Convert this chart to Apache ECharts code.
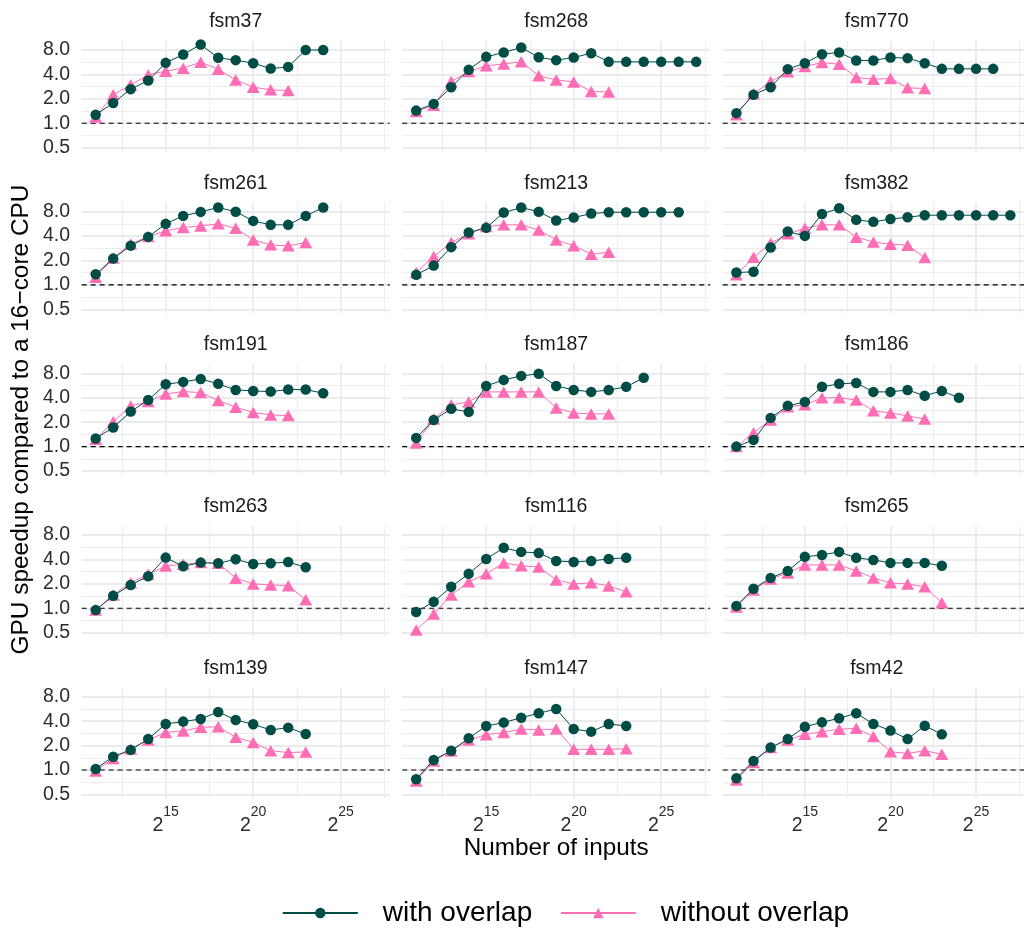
<!DOCTYPE html>
<html>
<head>
<meta charset="utf-8">
<script src="https://cdn.jsdelivr.net/npm/echarts@6/dist/echarts.min.js"></script>
<style>
  html, body { margin: 0; padding: 0; background: #ffffff; }
  #chart { width: 1024px; height: 931px; }
</style>
</head>
<body>
<div id="chart"></div>
<script>
// Input sizes are powers of two: 2^11 ... 2^27
const inputExponents = [11, 12, 13, 14, 15, 16, 17, 18, 19, 20, 21, 22, 23, 24, 25, 26, 27];

// GPU speedup over a 16-core CPU, one pair of arrays per FSM
const fsm37With     = [1.27, 1.77, 2.63, 3.36, 5.55, 7.03, 9.34, 6.4, 5.99, 5.5, 4.72, 4.95, 8.0, 8.0];
const fsm37Without  = [1.19, 2.24, 2.97, 3.95, 4.38, 4.77, 5.66, 4.64, 3.42, 2.78, 2.58, 2.53];
const fsm268With    = [1.43, 1.73, 2.78, 4.55, 6.58, 7.45, 8.58, 6.5, 5.99, 6.46, 7.3, 5.71, 5.71, 5.71, 5.71, 5.71, 5.71];
const fsm268Without = [1.39, 1.67, 3.27, 4.34, 5.1, 5.39, 5.71, 3.84, 3.42, 3.23, 2.46, 2.43];
const fsm770With    = [1.33, 2.24, 2.78, 4.64, 5.5, 7.1, 7.45, 5.94, 5.94, 6.46, 6.34, 5.5, 4.68, 4.68, 4.68, 4.68];
const fsm770Without = [1.27, 2.3, 3.27, 4.3, 5.0, 5.6, 5.34, 3.66, 3.49, 3.56, 2.73, 2.68];
const fsm261With    = [1.35, 2.11, 3.05, 3.91, 5.66, 7.1, 7.95, 9.0, 8.0, 6.16, 5.5, 5.5, 7.1, 9.0];
const fsm261Without = [1.24, 2.15, 3.2, 3.95, 4.64, 5.1, 5.34, 5.66, 5.0, 3.59, 3.12, 3.03, 3.33];
const fsm213With    = [1.33, 1.73, 2.92, 4.42, 5.05, 7.8, 9.0, 8.0, 6.22, 6.77, 7.58, 7.87, 7.87, 7.87, 7.87, 7.87];
const fsm213Without = [1.42, 2.24, 3.33, 4.26, 5.24, 5.5, 5.5, 4.77, 3.59, 3.05, 2.39, 2.53];
const fsm382With    = [1.42, 1.45, 2.89, 4.55, 4.02, 7.5, 8.8, 6.34, 5.99, 6.5, 6.83, 7.24, 7.24, 7.24, 7.24, 7.24, 7.24];
const fsm382Without = [1.33, 2.19, 3.27, 4.26, 5.0, 5.5, 5.5, 3.87, 3.39, 3.17, 3.09, 2.17];
const fsm191With    = [1.26, 1.72, 2.7, 3.76, 5.87, 6.28, 6.83, 5.94, 5.0, 4.86, 4.77, 5.05, 5.05, 4.55];
const fsm191Without = [1.23, 2.03, 3.17, 3.59, 4.46, 4.77, 4.64, 3.7, 3.06, 2.63, 2.46, 2.41];
const fsm187With    = [1.28, 2.13, 2.92, 2.68, 5.6, 6.65, 7.45, 7.9, 5.6, 5.0, 4.73, 5.0, 5.46, 7.05];
const fsm187Without = [1.11, 2.19, 3.27, 3.56, 4.73, 4.73, 4.73, 4.73, 3.0, 2.6, 2.53, 2.53];
const fsm186With    = [1.0, 1.21, 2.26, 3.18, 3.56, 5.46, 5.94, 6.1, 4.73, 4.73, 5.0, 4.23, 4.86, 4.0];
const fsm186Without = [1.0, 1.48, 2.13, 3.09, 3.27, 4.0, 4.0, 3.76, 2.76, 2.6, 2.39, 2.19];
const fsm263With    = [0.95, 1.43, 1.94, 2.48, 4.22, 3.3, 3.66, 3.59, 4.02, 3.52, 3.59, 3.73, 3.2];
const fsm263Without = [0.95, 1.46, 2.07, 2.63, 3.33, 3.49, 3.66, 3.59, 2.35, 2.0, 1.94, 1.9, 1.27];
const fsm116With    = [0.9, 1.2, 1.84, 2.66, 4.06, 5.57, 4.96, 4.82, 3.84, 3.73, 3.84, 4.06, 4.2];
const fsm116Without = [0.54, 0.85, 1.46, 2.12, 2.66, 3.63, 3.34, 3.24, 2.24, 2.0, 2.06, 1.89, 1.6];
const fsm265With    = [1.07, 1.74, 2.37, 2.89, 4.31, 4.55, 4.96, 4.19, 3.95, 3.63, 3.63, 3.63, 3.34];
const fsm265Without = [1.04, 1.68, 2.3, 2.73, 3.43, 3.43, 3.43, 2.89, 2.37, 2.06, 2.0, 1.84, 1.17];
const fsm139With    = [1.03, 1.46, 1.77, 2.41, 3.7, 3.95, 4.26, 5.2, 4.14, 3.66, 3.12, 3.33, 2.78];
const fsm139Without = [0.97, 1.39, 1.82, 2.35, 2.91, 3.03, 3.36, 3.42, 2.53, 2.19, 1.73, 1.64, 1.67];
const fsm147With    = [0.77, 1.33, 1.73, 2.46, 3.49, 3.84, 4.42, 5.0, 5.66, 3.2, 2.97, 3.7, 3.49];
const fsm147Without = [0.73, 1.29, 1.72, 2.35, 2.73, 2.89, 3.2, 3.12, 3.2, 1.8, 1.8, 1.8, 1.83];
const fsm42With     = [0.79, 1.29, 1.89, 2.41, 3.42, 3.87, 4.35, 5.0, 3.7, 3.06, 2.41, 3.52, 2.75];
const fsm42Without  = [0.75, 1.24, 1.9, 2.35, 2.75, 2.97, 3.18, 3.27, 2.58, 1.68, 1.6, 1.73, 1.56];

// Facet order, row by row
const panelNames = ['fsm37', 'fsm268', 'fsm770', 'fsm261', 'fsm213', 'fsm382', 'fsm191', 'fsm187', 'fsm186',
                    'fsm263', 'fsm116', 'fsm265', 'fsm139', 'fsm147', 'fsm42'];
const panelWith = [fsm37With, fsm268With, fsm770With, fsm261With, fsm213With, fsm382With, fsm191With, fsm187With,
                   fsm186With, fsm263With, fsm116With, fsm265With, fsm139With, fsm147With, fsm42With];
const panelWithout = [fsm37Without, fsm268Without, fsm770Without, fsm261Without, fsm213Without, fsm382Without,
                      fsm191Without, fsm187Without, fsm186Without, fsm263Without, fsm116Without, fsm265Without,
                      fsm139Without, fsm147Without, fsm42Without];

const seriesNames = ['with overlap', 'without overlap'];
const referenceSpeedup = 1;

// Axis breaks (x in log2 of the input count, y as speedup values)
const xTickExponents = [15, 20, 25];
const xMinorExponents = [12.5, 17.5, 22.5, 27.5];
const yTickValues = [0.5, 1, 2, 4, 8];
const yMinorValues = [Math.SQRT1_2, Math.SQRT2, 2 * Math.SQRT2, 4 * Math.SQRT2];

// ---- layout and style ----
const FONT = '"Liberation Sans", Arial, Helvetica, sans-serif';
const TEAL = '#004c46';
const PINK = '#ff6eb4';
const GRID_COLOR = '#ebebeb';
const colLeft = [81.7, 402.2, 722.7];
const panelW = 308;
const rowTop = [40.7, 202.4, 364.1, 525.8, 687.5];
const panelH = 110.8;
const xMin = 10.2, xMax = 27.8;     // log2 of the input count
const yMin = -1.16, yMax = 3.38;    // log2 of the speedup

const yTickLog = yTickValues.map(Math.log2);
const yMinorLog = yMinorValues.map(Math.log2);

const grids = [], xAxes = [], yAxes = [], series = [], graphics = [];

panelNames.forEach((name, i) => {
  const r = Math.floor(i / 3), c = i % 3;
  grids.push({ left: colLeft[c], top: rowTop[r], width: panelW, height: panelH, show: false });

  // major axes: carry the data, labels and major grid lines
  xAxes.push({
    gridIndex: i, type: 'value', min: xMin, max: xMax,
    axisLine: { show: false },
    axisTick: { show: false, customValues: xTickExponents },
    axisLabel: {
      show: r === 4, customValues: xTickExponents, margin: 7,
      formatter: v => '{b|2}{s|' + v + '}',
      rich: {
        b: { fontFamily: FONT, fontSize: 19.5, color: '#2b2b2b', lineHeight: 30, verticalAlign: 'bottom' },
        s: { fontFamily: FONT, fontSize: 14, color: '#2b2b2b', lineHeight: 18, verticalAlign: 'top' }
      }
    },
    splitLine: { show: true, lineStyle: { color: GRID_COLOR, width: 1.8 } }
  });
  yAxes.push({
    gridIndex: i, type: 'value', min: yMin, max: yMax,
    axisLine: { show: false },
    axisTick: { show: false, customValues: yTickLog },
    axisLabel: {
      show: c === 0, customValues: yTickLog, margin: 11.7,
      formatter: v => Math.pow(2, v).toFixed(1),
      fontFamily: FONT, fontSize: 19.5, color: '#2b2b2b'
    },
    splitLine: { show: true, lineStyle: { color: GRID_COLOR, width: 1.8 } }
  });
  // minor axes: only the thinner grid lines
  xAxes.push({
    gridIndex: i, type: 'value', min: xMin, max: xMax,
    axisLine: { show: false }, axisLabel: { show: false },
    axisTick: { show: false, customValues: xMinorExponents },
    splitLine: { show: true, lineStyle: { color: GRID_COLOR, width: 0.9 } }
  });
  yAxes.push({
    gridIndex: i, type: 'value', min: yMin, max: yMax,
    axisLine: { show: false }, axisLabel: { show: false },
    axisTick: { show: false, customValues: yMinorLog },
    splitLine: { show: true, lineStyle: { color: GRID_COLOR, width: 0.9 } }
  });

  const xi = 2 * i, yi = 2 * i;

  // dashed line at a speedup of 1
  series.push({
    type: 'line', name: 'parity', xAxisIndex: xi, yAxisIndex: yi, z: 2, silent: true,
    symbol: 'none', animation: false,
    lineStyle: { color: '#000000', width: 1.1, type: [5, 4] },
    data: [[xMin, Math.log2(referenceSpeedup)], [xMax, Math.log2(referenceSpeedup)]]
  });
  series.push({
    type: 'line', name: seriesNames[1], xAxisIndex: xi, yAxisIndex: yi, z: 3, animation: false,
    symbol: 'triangle', symbolSize: [13, 11.5],
    itemStyle: { color: PINK }, lineStyle: { color: PINK, width: 1 },
    data: panelWithout[i].map((v, k) => [inputExponents[k], Math.log2(v)])
  });
  series.push({
    type: 'line', name: seriesNames[0], xAxisIndex: xi, yAxisIndex: yi, z: 4, animation: false,
    symbol: 'circle', symbolSize: 10.5,
    itemStyle: { color: TEAL }, lineStyle: { color: TEAL, width: 1 },
    data: panelWith[i].map((v, k) => [inputExponents[k], Math.log2(v)])
  });

  // facet strip label
  graphics.push({
    type: 'text', x: colLeft[c] + panelW / 2, y: rowTop[r] - 19.2, silent: true,
    style: {
      text: name, font: '19.5px ' + FONT, fill: '#1a1a1a',
      align: 'center', verticalAlign: 'middle', textAlign: 'center', textVerticalAlign: 'middle'
    }
  });
});

// axis titles
graphics.push({
  type: 'text', x: (colLeft[0] + colLeft[2] + panelW) / 2, y: 848.3, silent: true,
  style: {
    text: 'Number of inputs', font: '24.3px ' + FONT, fill: '#000000',
    align: 'center', verticalAlign: 'middle', textAlign: 'center', textVerticalAlign: 'middle'
  }
});
graphics.push({
  type: 'text', x: 21, y: (rowTop[0] + rowTop[4] + panelH) / 2, rotation: Math.PI / 2, silent: true,
  style: {
    text: 'GPU speedup compared to a 16\u2212core CPU', font: '24.4px ' + FONT, fill: '#000000',
    align: 'center', verticalAlign: 'middle', textAlign: 'center', textVerticalAlign: 'middle'
  }
});

const chart = echarts.init(document.getElementById('chart'), null, { renderer: 'canvas' });
chart.setOption({
  backgroundColor: '#ffffff',
  animation: false,
  grid: grids,
  xAxis: xAxes,
  yAxis: yAxes,
  series: series,
  graphic: { elements: graphics },
  legend: {
    data: seriesNames,
    left: 281.8, top: 899, padding: 0,
    orient: 'horizontal',
    itemWidth: 75, itemHeight: 13, itemGap: 27.6,
    selectedMode: false,
    textStyle: { fontFamily: FONT, fontSize: 28, color: '#000000', padding: [0, 0, 0, 20] }
  }
});
</script>
</body>
</html>
